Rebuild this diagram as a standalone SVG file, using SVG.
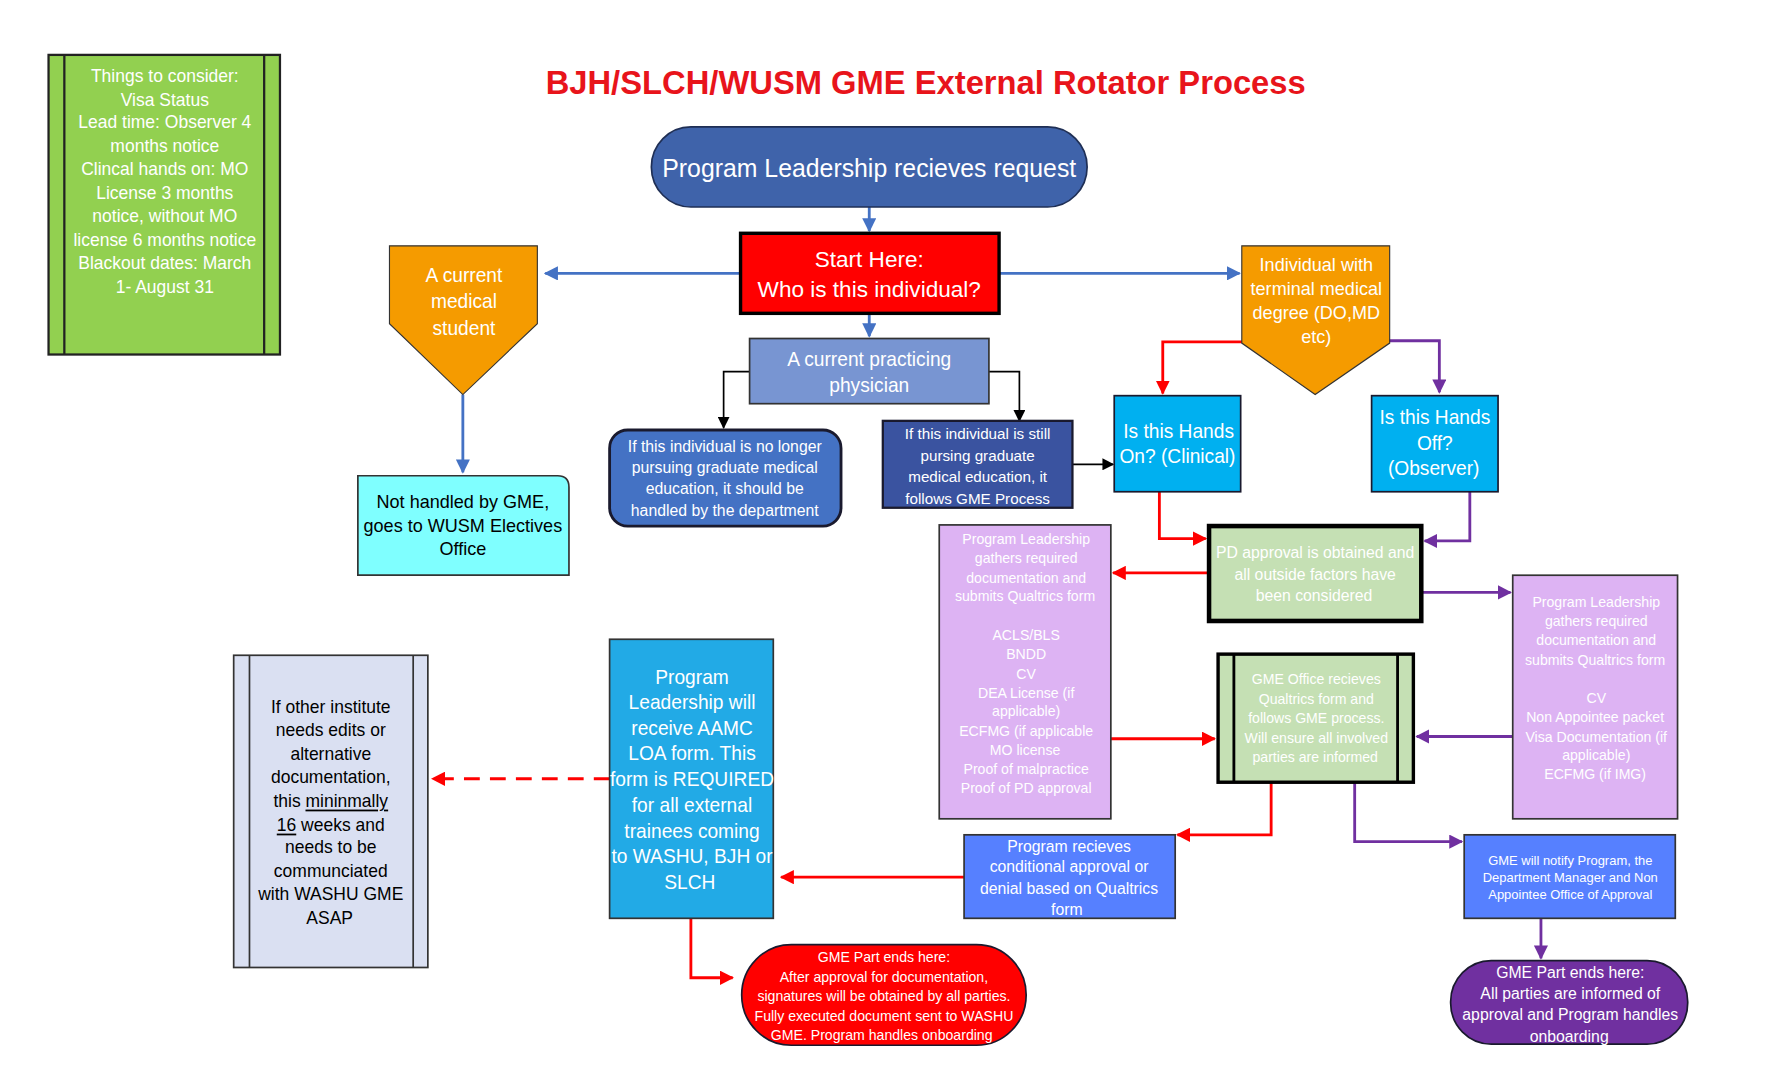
<svg xmlns="http://www.w3.org/2000/svg" width="1770" height="1075" viewBox="0 0 1770 1075">
<defs>
<style>
text{font-family:"Liberation Sans Narrow","Liberation Sans",Arial,sans-serif;text-anchor:middle;dominant-baseline:central}
.w{fill:#fff}.k{fill:#000}
.c{fill:none;stroke-width:2.5}
.bl{stroke:#4472c4}.rd{stroke:#f00}.pu{stroke:#7030a0}.bk{stroke:#000;stroke-width:1.5}
</style>
<marker id="ab" viewBox="0 0 10 10" refX="9" refY="5" markerWidth="5" markerHeight="5" orient="auto"><path d="M0,0L10,5L0,10z" fill="#4472c4"/></marker>
<marker id="ar" viewBox="0 0 10 10" refX="9" refY="5" markerWidth="5" markerHeight="5" orient="auto"><path d="M0,0L10,5L0,10z" fill="#f00"/></marker>
<marker id="ap" viewBox="0 0 10 10" refX="9" refY="5" markerWidth="5" markerHeight="5" orient="auto"><path d="M0,0L10,5L0,10z" fill="#7030a0"/></marker>
<marker id="ak" viewBox="0 0 10 10" refX="9" refY="5" markerWidth="7" markerHeight="7" orient="auto"><path d="M0,0L10,5L0,10z" fill="#000"/></marker>
</defs>
<rect width="1770" height="1075" fill="#fff"/>
<g transform="scale(1.1289,1.1436)">
<text x="820" y="72" font-size="29" font-weight="bold" fill="#e8141b">BJH/SLCH/WUSM GME External Rotator Process</text>

<g id="connectors">
<path class="c bl" d="M770,181V202" marker-end="url(#ab)"/>
<path class="c bl" d="M656,239H483" marker-end="url(#ab)"/>
<path class="c bl" d="M885,239H1098" marker-end="url(#ab)"/>
<path class="c bl" d="M770,274V294" marker-end="url(#ab)"/>
<path class="c bl" d="M410,345V413" marker-end="url(#ab)"/>
<path class="c bk" d="M664,325H641V374" marker-end="url(#ak)"/>
<path class="c bk" d="M876,325H903V368" marker-end="url(#ak)"/>
<path class="c bk" d="M950,406H986" marker-end="url(#ak)"/>
<path class="c rd" d="M1120,299H1030V344" marker-end="url(#ar)"/>
<path class="c pu" d="M1210,298H1275V343" marker-end="url(#ap)"/>
<path class="c rd" d="M1027,430V471H1068" marker-end="url(#ar)"/>
<path class="c pu" d="M1302,430V473H1262" marker-end="url(#ap)"/>
<path class="c rd" d="M1070,501H986" marker-end="url(#ar)"/>
<path class="c pu" d="M1260,518H1338" marker-end="url(#ap)"/>
<path class="c rd" d="M984,646H1076" marker-end="url(#ar)"/>
<path class="c pu" d="M1340,644H1255" marker-end="url(#ap)"/>
<path class="c rd" d="M1126,684V730H1043" marker-end="url(#ar)"/>
<path class="c pu" d="M1200,684V736H1295" marker-end="url(#ap)"/>
<path class="c pu" d="M1365,803V838" marker-end="url(#ap)"/>
<path class="c rd" d="M854,767H692" marker-end="url(#ar)"/>
<path class="c rd" d="M540,681H383" stroke-dasharray="14,9" marker-end="url(#ar)"/>
<path class="c rd" d="M612,803V855H649" marker-end="url(#ar)"/>
</g>

<g id="consider">
<rect x="43" y="48" width="205" height="262" fill="#92d050" stroke="#222" stroke-width="2"/>
<path d="M57,48V310M234,48V310" stroke="#222" stroke-width="2"/>
<g class="w" font-size="15.5">
<text x="146" y="66">Things to consider:</text><text x="146" y="87">Visa Status</text>
<text x="146" y="107">Lead time: Observer 4</text><text x="146" y="128">months notice</text>
<text x="146" y="148">Clincal hands on: MO</text><text x="146" y="169">License 3 months</text>
<text x="146" y="189">notice, without MO</text><text x="146" y="210">license 6 months notice</text>
<text x="146" y="230">Blackout dates: March</text><text x="146" y="251">1- August 31</text>
</g></g>

<g id="request">
<rect x="577" y="111" width="386" height="70" rx="35" fill="#3f63aa" stroke="#1f2f55" stroke-width="1.5"/>
<text x="770" y="147" font-size="22" class="w">Program Leadership recieves request</text></g>

<g id="start">
<rect x="656" y="204" width="229" height="70" fill="#f00" stroke="#000" stroke-width="3"/>
<text x="770" y="226" font-size="20" class="w">Start Here:</text>
<text x="770" y="253" font-size="20" class="w">Who is this individual?</text></g>

<g id="student">
<path d="M345,215H476V283L410,345L345,283Z" fill="#f59b00" stroke="#333"/>
<g class="w" font-size="17"><text x="411" y="241">A current</text><text x="411" y="264">medical</text><text x="411" y="287">student</text></g></g>

<g id="notgme">
<path d="M317,416H494Q504,416 504,426V503H317Z" fill="#7fffff" stroke="#333" stroke-width="1.5"/>
<g class="k" font-size="16"><text x="410" y="439">Not handled by GME,</text><text x="410" y="460">goes to WUSM Electives</text><text x="410" y="480">Office</text></g></g>

<g id="terminal">
<path d="M1100,215H1231V300L1165,345L1100,300Z" fill="#f59b00" stroke="#333"/>
<g class="w" font-size="16"><text x="1166" y="232">Individual with</text><text x="1166" y="253">terminal medical</text><text x="1166" y="274">degree (DO,MD</text><text x="1166" y="295">etc)</text></g></g>

<g id="physician">
<rect x="664" y="296" width="212" height="57" fill="#7895d2" stroke="#333" stroke-width="1.5"/>
<text x="770" y="314" font-size="17" class="w">A current practicing</text><text x="770" y="337" font-size="17" class="w">physician</text></g>

<g id="nolonger">
<rect x="540" y="376" width="205" height="84" rx="16" fill="#4472c4" stroke="#1a1a2e" stroke-width="2.5"/>
<g class="w" font-size="14"><text x="642" y="390">If this individual is no longer</text><text x="642" y="409">pursuing graduate medical</text><text x="642" y="427">education, it should be</text><text x="642" y="446">handled by the department</text></g></g>

<g id="still">
<rect x="782" y="368" width="168" height="76" fill="#3a53a0" stroke="#1a1a2e" stroke-width="2"/>
<g class="w" font-size="13.5"><text x="866" y="379">If this individual is still</text><text x="866" y="398">pursing graduate</text><text x="866" y="417">medical education, it</text><text x="866" y="436">follows GME Process</text></g></g>

<g id="handson">
<rect x="987" y="346" width="112" height="84" fill="#00b0f0" stroke="#1a1a2e" stroke-width="1.5"/>
<text x="1044" y="377" font-size="17" class="w">Is this Hands</text><text x="1043" y="399" font-size="17" class="w">On? (Clinical)</text></g>

<g id="handsoff">
<rect x="1215" y="346" width="112" height="84" fill="#00b0f0" stroke="#1a1a2e" stroke-width="1.5"/>
<g class="w" font-size="17"><text x="1271" y="365">Is this Hands</text><text x="1271" y="388">Off?</text><text x="1270" y="410">(Observer)</text></g></g>

<g id="pdapproval">
<rect x="1071" y="460" width="188" height="83" fill="#c5e0b4" stroke="#000" stroke-width="4"/>
<g class="w" font-size="14"><text x="1165" y="483">PD approval is obtained and</text><text x="1165" y="502">all outside factors have</text><text x="1164" y="521">been considered</text></g></g>

<g id="leftdocs">
<rect x="832" y="459" width="152" height="257" fill="#ddb3f3" stroke="#333" stroke-width="1.5"/>
<g class="w" font-size="12.5">
<text x="909" y="471">Program Leadership</text><text x="909" y="488">gathers required</text><text x="909" y="505">documentation and</text><text x="908" y="521">submits Qualtrics form</text>
<text x="909" y="555">ACLS/BLS</text><text x="909" y="572">BNDD</text><text x="909" y="589">CV</text><text x="909" y="606">DEA License (if</text><text x="909" y="622">applicable)</text><text x="909" y="639">ECFMG (if applicable</text><text x="908" y="656">MO license</text><text x="909" y="672">Proof of malpractice</text><text x="909" y="689">Proof of PD approval</text></g></g>

<g id="rightdocs">
<rect x="1340" y="503" width="146" height="213" fill="#ddb3f3" stroke="#333" stroke-width="1.5"/>
<g class="w" font-size="12.5">
<text x="1414" y="526">Program Leadership</text><text x="1414" y="543">gathers required</text><text x="1414" y="560">documentation and</text><text x="1413" y="577">submits Qualtrics form</text>
<text x="1414" y="610">CV</text><text x="1413" y="627">Non Appointee packet</text><text x="1414" y="644">Visa Documentation (if</text><text x="1414" y="660">applicable)</text><text x="1413" y="677">ECFMG (if IMG)</text></g></g>

<g id="gmeoffice">
<rect x="1079" y="572" width="173" height="112" fill="#c5e0b4" stroke="#000" stroke-width="3"/>
<path d="M1093,572V684M1238,572V684" stroke="#000" stroke-width="2.5"/>
<g class="w" font-size="12.5"><text x="1166" y="594">GME Office recieves</text><text x="1166" y="611">Qualtrics form and</text><text x="1166" y="628">follows GME process.</text><text x="1166" y="645">Will ensure all involved</text><text x="1165" y="662">parties are informed</text></g></g>

<g id="progreceives">
<rect x="854" y="730" width="187" height="73" fill="#5680ff" stroke="#333" stroke-width="1.5"/>
<g class="w" font-size="14"><text x="947" y="740">Program recieves</text><text x="947" y="758">conditional approval or</text><text x="947" y="777">denial based on Qualtrics</text><text x="945" y="795">form</text></g></g>

<g id="notify">
<rect x="1297" y="730" width="187" height="73" fill="#5680ff" stroke="#333" stroke-width="1.5"/>
<g class="w" font-size="11.5"><text x="1391" y="752">GME will notify Program, the</text><text x="1391" y="767">Department Manager and Non</text><text x="1391" y="782">Appointee Office of Approval</text></g></g>

<g id="endpurple">
<rect x="1285" y="840" width="210" height="73" rx="36" fill="#7030a0" stroke="#1a1a2e" stroke-width="1.5"/>
<g class="w" font-size="14"><text x="1391" y="850">GME Part ends here:</text><text x="1391" y="869">All parties are informed of</text><text x="1391" y="887">approval and Program handles</text><text x="1390" y="906">onboarding</text></g></g>

<g id="loa">
<rect x="540" y="559" width="145" height="244" fill="#22aae6" stroke="#333" stroke-width="1.5"/>
<g class="w" font-size="17"><text x="613" y="592">Program</text><text x="613" y="614">Leadership will</text><text x="613" y="637">receive AAMC</text><text x="613" y="659">LOA form. This</text><text x="613" y="682">form is REQUIRED</text><text x="613" y="704">for all external</text><text x="613" y="727">trainees coming</text><text x="613" y="749">to WASHU, BJH or</text><text x="611" y="772">SLCH</text></g></g>

<g id="otherinst">
<rect x="207" y="573" width="172" height="273" fill="#dae0f2" stroke="#333" stroke-width="1.5"/>
<path d="M221,573V846M366,573V846" stroke="#333" stroke-width="1.5"/>
<g class="k" font-size="15.5"><text x="293" y="618">If other institute</text><text x="293" y="638">needs edits or</text><text x="293" y="659">alternative</text><text x="293" y="679">documentation,</text><text x="293" y="700">this <tspan text-decoration="underline">mininmally</tspan></text><text x="293" y="721"><tspan text-decoration="underline">16</tspan> weeks and</text><text x="293" y="741">needs to be</text><text x="293" y="762">communciated</text><text x="293" y="782">with WASHU GME</text><text x="292" y="803">ASAP</text></g></g>

<g id="endred">
<rect x="657" y="826" width="252" height="88" rx="44" fill="#f00" stroke="#1a1a2e" stroke-width="1.5"/>
<g class="w" font-size="12.5"><text x="783" y="837">GME Part ends here:</text><text x="783" y="854">After approval for documentation,</text><text x="783" y="871">signatures will be obtained by all parties.</text><text x="783" y="888">Fully executed document sent to WASHU</text><text x="781" y="905">GME. Program handles onboarding</text></g></g>
</g>
</svg>
